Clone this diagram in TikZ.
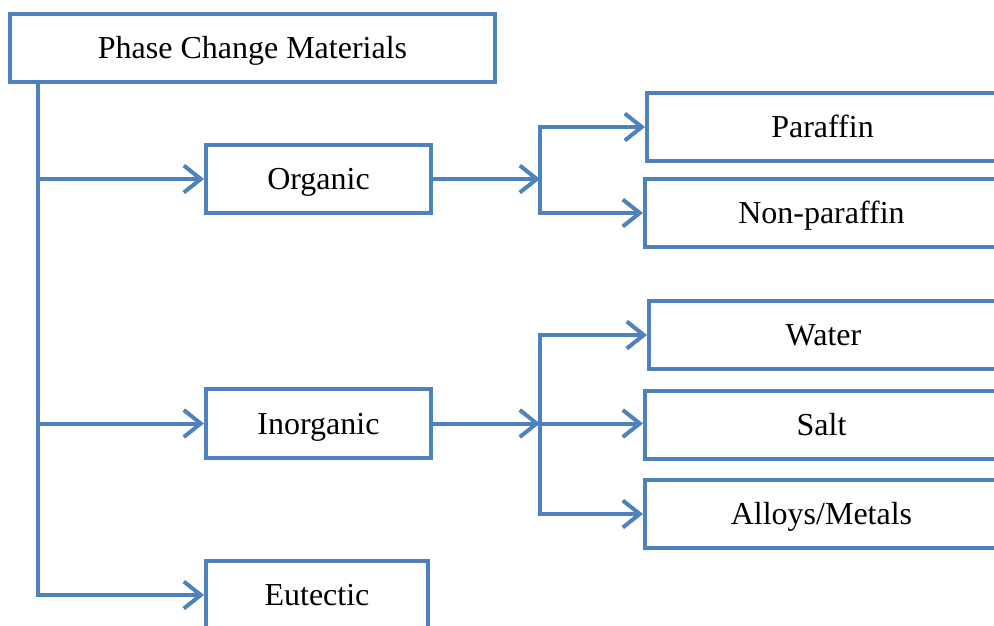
\documentclass[tikz,border=0pt]{standalone}
\usepackage{fontspec}
\setmainfont{Liberation Serif}
\usetikzlibrary{arrows.meta}
\definecolor{pcmblue}{HTML}{4F81BD}
\begin{document}
\begin{tikzpicture}[x=1pt,y=-1pt,
  box/.style={draw=pcmblue, line width=4pt, fill=white, rectangle, inner sep=0pt,
    font=\fontsize{32}{38}\selectfont, text=black, text height=21pt, text depth=0pt},
  conn/.style={draw=pcmblue, line width=4pt},
  arr/.style={conn, -{Straight Barb[length=17pt,width=27pt]}}]
\useasboundingbox (0,0) rectangle (994,625);
\clip (0,0) rectangle (994,625);
% nodes
\node[box, minimum width=485pt, minimum height=68pt] (pcm) at (252.5,48) {Phase Change Materials};
\node[box, minimum width=225pt, minimum height=68pt] (org) at (318.5,179) {Organic};
\node[box, minimum width=225pt, minimum height=69pt] (inorg) at (318.5,423.5) {Inorganic};
\node[box, minimum width=222pt, minimum height=68pt] (eut) at (317,595) {Eutectic};
\node[box, minimum width=351pt, minimum height=68pt] (par) at (822.5,127) {Paraffin};
\node[box, minimum width=353pt, minimum height=68pt] (npar) at (821.5,213) {Non-paraffin};
\node[box, minimum width=349pt, minimum height=68pt] (wat) at (823.5,335) {Water};
\node[box, minimum width=353pt, minimum height=68pt] (salt) at (821.5,425) {Salt};
\node[box, minimum width=353pt, minimum height=68pt] (alloy) at (821.5,514) {Alloys/Metals};
% trunk
\coordinate (t0) at (38,82);
\draw[arr] (t0) |- (org.west);
\draw[arr] (t0) |- (inorg.west);
\draw[arr] (t0) |- (eut.west);
% organic branch
\coordinate (b1) at (540,179);
\draw[arr] (org.east) -- (b1);
\draw[arr] (b1) |- (par.west);
\draw[arr] (b1) |- (npar.west);
% inorganic branch
\coordinate (b2) at (540,423.5);
\draw[arr] (inorg.east) -- (b2);
\draw[arr] (b2) |- (wat.west);
\draw[arr] (b2) -- (b2 -| salt.west);
\draw[arr] (b2) |- (alloy.west);
\end{tikzpicture}
\end{document}
